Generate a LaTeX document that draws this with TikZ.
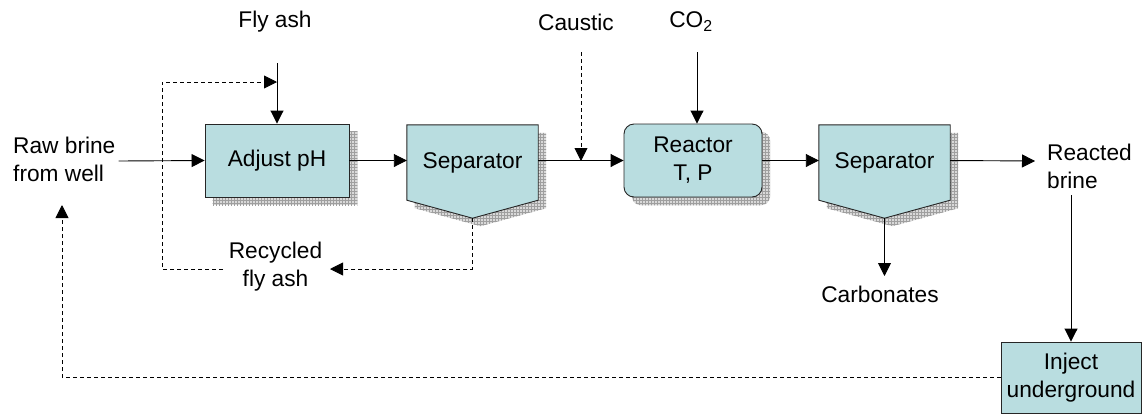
\documentclass[tikz,border=0pt]{standalone}
\usepackage{fontspec}
\setmainfont{Liberation Sans}
\usetikzlibrary{arrows.meta,patterns,calc,backgrounds}
\definecolor{boxfill}{RGB}{185,221,224}
\begin{document}
\begin{tikzpicture}[x=1pt,y=-1pt,
  font=\fontsize{22.7}{28}\selectfont,
  box/.style={draw=black!85, fill=boxfill, line width=0.9pt, inner sep=0pt, align=center},
  sepbox/.style={draw=none, inner sep=0pt, align=center, minimum width=131pt, minimum height=75pt},
  sepshape/.style={draw=black!85, fill=boxfill, line width=0.9pt},
  arr/.style={line width=0.9pt, -{Triangle[length=13pt,width=13pt]}},
  ln/.style={line width=0.9pt},
  dsh/.style={line width=0.9pt, dash pattern=on 4pt off 3pt},
  lbl/.style={align=center, inner sep=0pt},
  shadowbase/.style={fill=gray!30},
  shadowgrid/.style={pattern=grid, pattern color=gray!75},
  ]
\useasboundingbox (0,0) rectangle (1144,416);

% boxes
\node[box, minimum width=144pt, minimum height=73pt] (adj) at (277,160.5) {Adjust pH};
\node[sepbox] (sep1) at (472.5,162.5) {Separator};
\coordinate (sep1tip) at ($(sep1.south)+(0,18)$);
\node[box, rounded corners=10pt, minimum width=138pt, minimum height=73pt] (reac) at (693,160.5) {Reactor\\T, P};
\node[sepbox] (sep2) at (884.5,162.5) {Separator};
\coordinate (sep2tip) at ($(sep2.south)+(0,18)$);
\node[box, minimum width=140pt, minimum height=71pt] (inj) at (1071,377.5) {Inject\\underground};

% labels
\node[lbl, align=left, anchor=west] (raw) at (13,159) {Raw brine\\from well};
\node[lbl] (flyash) at (275,22) {Fly ash};
\node[lbl] (caustic) at (576,22) {Caustic};
\node[lbl] (co2) at (691,22) {CO\textsubscript{2}};
\node[lbl, align=left, anchor=west] (reacted) at (1047,166) {Reacted\\brine};
\node[lbl] (carb) at (880,294) {Carbonates};
\node[lbl] (recyc) at (275.5,267) {Recycled\\fly ash};

% shadows and separator shapes
\begin{scope}[on background layer]
  \path[shadowbase] ($(adj.north west)+(8,8)$) rectangle ($(adj.south east)+(8,8)$);
  \path[shadowgrid] ($(adj.north west)+(8,8)$) rectangle ($(adj.south east)+(8,8)$);
  \path[shadowbase, rounded corners=10pt] ($(reac.north west)+(8,8)$) rectangle ($(reac.south east)+(8,8)$);
  \path[shadowgrid, rounded corners=10pt] ($(reac.north west)+(8,8)$) rectangle ($(reac.south east)+(8,8)$);
  \foreach \n in {sep1,sep2} {
    \path[shadowbase] ($(\n.north west)+(8,8)$) -- ($(\n.north east)+(8,8)$) -- ($(\n.south east)+(8,8)$) -- ($(\n tip)+(8,8)$) -- ($(\n.south west)+(8,8)$) -- cycle;
    \path[shadowgrid] ($(\n.north west)+(8,8)$) -- ($(\n.north east)+(8,8)$) -- ($(\n.south east)+(8,8)$) -- ($(\n tip)+(8,8)$) -- ($(\n.south west)+(8,8)$) -- cycle;
    \path[sepshape] (\n.north west) -- (\n.north east) -- (\n.south east) -- (\n tip) -- (\n.south west) -- cycle;
  }
\end{scope}

% coordinates for free ends
\coordinate (flyin) at (277,63);
\coordinate (causticin) at (581,52);
\coordinate (co2in) at (697,52);
\coordinate (causticjoin) at (581,161);
\coordinate (loopL) at (162,269);
\coordinate (loopT) at (162,82);
\coordinate (loopE) at (277,82);
\coordinate (recycEnd) at (330,269);
\coordinate (recycGap) at (223,269);
\coordinate (reactEnd) at (1035,161);
\coordinate (carbEnd) at (884.5,276);
\coordinate (injIn) at (1071,195);
\coordinate (rawUp) at (62,205);

% main flow
\draw[arr] ($(raw.east)+(3,2)$) -- (adj.west);
\draw[arr] (adj.east) -- (sep1.west |- adj.east);
\draw[arr] (sep1.east |- adj.east) -- (reac.west);
\draw[arr] (reac.east) -- (sep2.west |- reac.east);
\draw[arr] (sep2.east |- reac.east) -- (reactEnd);
\draw[arr] (flyin) -- (adj.north);
\draw[arr] (co2in) -- (co2in |- reac.north);
\draw[dsh, arr] (causticin) -- (causticjoin);
\draw[arr] (sep2tip) -- (carbEnd);
\draw[arr] (injIn) -- (inj.north);

% recycle loop
\draw[dsh, arr] (sep1tip) -- (sep1tip |- recycEnd) -- (recycEnd);
\draw[dsh, arr] (recycGap) -- (loopL) -- (loopT) -- (loopE);

% reinjection return
\draw[dsh, arr] (inj.west) -- (rawUp |- inj.west) -- (rawUp);
\end{tikzpicture}
\end{document}
